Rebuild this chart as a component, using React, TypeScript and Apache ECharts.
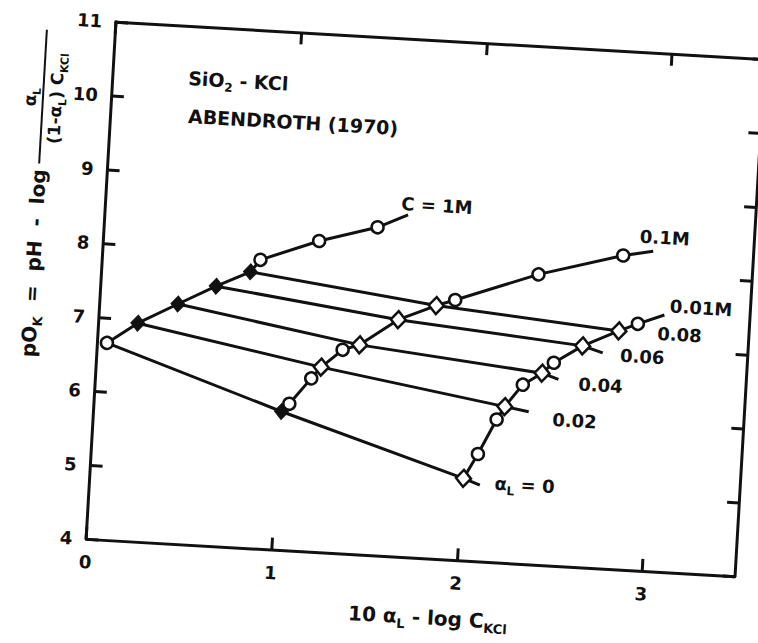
import React, { useEffect, useRef } from 'react';
import * as echarts from 'echarts';

// Axis ranges / ticks
const xMin = 0;
const xMax = 3.5;
const yMin = 4;
const yMax = 11;

// C = 1M curve (o: open circle, D: filled diamond, -: no marker)
const c1mX = [0.05, 0.21, 0.42, 0.62, 0.80, 0.85, 1.16, 1.47, 1.63];
const c1mY = [6.66, 6.95, 7.24, 7.51, 7.73, 7.90, 8.20, 8.43, 8.62];
const c1mMark = ['o', 'D', 'D', 'D', 'D', 'o', 'o', 'o', '-'];

// C = 0.1M curve (d: open diamond)
const c01X = [1.01, 1.05, 1.16, 1.21, 1.32, 1.41, 1.61, 1.81, 1.91, 2.35, 2.80, 2.96];
const c01Y = [5.87, 5.98, 6.34, 6.50, 6.75, 6.83, 7.20, 7.42, 7.51, 7.92, 8.24, 8.32];
const c01Mark = ['D', 'o', 'o', 'd', 'o', 'd', 'd', 'd', 'o', 'o', 'o', '-'];

// C = 0.01M curve
const c001X = [2.01, 2.08, 2.17, 2.21, 2.30, 2.40, 2.46, 2.61, 2.80, 2.90, 3.04];
const c001Y = [5.11, 5.45, 5.93, 6.11, 6.42, 6.59, 6.74, 6.99, 7.22, 7.33, 7.47];
const c001Mark = ['d', 'o', 'o', 'd', 'o', 'd', 'o', 'd', 'd', 'o', '-'];

// constant-alpha lines
const alpha0X = [0.05, 1.01, 2.01, 2.10];
const alpha0Y = [6.66, 5.87, 5.11, 5.03];
const alpha02X = [0.21, 1.21, 2.21, 2.34];
const alpha02Y = [6.95, 6.50, 6.11, 6.06];
const alpha04X = [0.42, 1.41, 2.40, 2.49];
const alpha04Y = [7.24, 6.83, 6.59, 6.52];
const alpha06X = [0.62, 1.61, 2.61, 2.72];
const alpha06Y = [7.51, 7.20, 6.99, 6.91];
const alpha08X = [0.80, 1.81, 2.80];
const alpha08Y = [7.73, 7.42, 7.22];

const FONT = 'DejaVu Sans';
const INK = '#111';

function curveData(xs: number[], ys: number[], marks: string[]) {
  return xs.map((x, i) => {
    const m = marks[i];
    const item: any = { value: [x, ys[i]] };
    if (m === 'o') {
      item.symbol = 'circle';
      item.symbolSize = 12;
      item.itemStyle = { color: '#fff', borderColor: INK, borderWidth: 2.5 };
    } else if (m === 'D') {
      item.symbol = 'diamond';
      item.symbolSize = [14, 16];
      item.itemStyle = { color: INK, borderColor: INK, borderWidth: 1 };
    } else if (m === 'd') {
      item.symbol = 'diamond';
      item.symbolSize = [15, 17];
      item.itemStyle = { color: '#fff', borderColor: INK, borderWidth: 2.5 };
    } else {
      item.symbol = 'none';
    }
    return item;
  });
}

function pairs(xs: number[], ys: number[]) {
  return xs.map((x, i) => [x, ys[i]]);
}

const rich = (size: number) => ({
  m: { fontSize: size, fontWeight: 'bold', fontFamily: FONT, color: INK },
  s: { fontSize: Math.round(size * 0.65), fontWeight: 'bold', fontFamily: FONT, color: INK, verticalAlign: 'bottom', lineHeight: size + 8 },
});

function label(x: number, y: number, text: string, size: number, align = 'left') {
  return {
    type: 'text',
    x,
    y,
    style: {
      text,
      rich: rich(size),
      font: `bold ${size}px ${FONT}`,
      fill: INK,
      align,
      verticalAlign: 'middle',
    },
  };
}

export default function App() {
  const ref = useRef<HTMLDivElement>(null);

  useEffect(() => {
    if (!ref.current) return;
    const chart = echarts.init(ref.current, null, { renderer: 'svg' });

    const axisLine = { show: true, onZero: false, lineStyle: { color: INK, width: 3 } };
    const axisTick = { show: true, inside: true, length: 12, lineStyle: { color: INK, width: 3 } };
    const tickLabel = { color: INK, fontSize: 18, fontWeight: 'bold', fontFamily: FONT };

    const alphaLine = (data: number[][]) => ({
      type: 'line',
      data,
      symbol: 'none',
      lineStyle: { color: INK, width: 3 },
      z: 2,
    });

    const curve = (data: any[]) => ({
      type: 'line',
      data,
      showAllSymbol: true,
      lineStyle: { color: INK, width: 3 },
      z: 3,
    });

    chart.setOption({
      animation: false,
      backgroundColor: '#fff',
      grid: { left: 100.7, top: 40, width: 649.6, height: 518 },
      xAxis: [
        {
          type: 'value', min: xMin, max: xMax, interval: 1, position: 'bottom',
          axisLine, axisTick,
          axisLabel: { ...tickLabel, margin: 14, showMaxLabel: false,
            formatter: (v: number) => (Number.isInteger(v) ? String(v) : '') },
          splitLine: { show: false },
        },
        {
          type: 'value', min: xMin, max: xMax, interval: 1, position: 'top',
          axisLine, axisTick, axisLabel: { show: false }, splitLine: { show: false },
        },
      ],
      yAxis: [
        {
          type: 'value', min: yMin, max: yMax, interval: 1, position: 'left',
          axisLine, axisTick,
          axisLabel: { ...tickLabel, margin: 14 },
          splitLine: { show: false },
        },
        {
          type: 'value', min: yMin, max: yMax, interval: 1, position: 'right',
          axisLine, axisTick, axisLabel: { show: false }, splitLine: { show: false },
        },
      ],
      series: [
        alphaLine(pairs(alpha0X, alpha0Y)),
        alphaLine(pairs(alpha02X, alpha02Y)),
        alphaLine(pairs(alpha04X, alpha04Y)),
        alphaLine(pairs(alpha06X, alpha06Y)),
        alphaLine(pairs(alpha08X, alpha08Y)),
        curve(curveData(c1mX, c1mY, c1mMark)),
        curve(curveData(c01X, c01Y, c01Mark)),
        curve(curveData(c001X, c001Y, c001Mark)),
      ],
      graphic: [
        label(176, 92, '{m|SiO}{s|2}{m| - KCl}', 19),
        label(178, 130, '{m|ABENDROTH (1970)}', 19),
        label(396, 205, '{m|C = 1M}', 18),
        label(636, 224, '{m|0.1M}', 18),
        label(670, 292, '{m|0.01M}', 18),
        label(659, 320, '{m|0.08}', 18),
        label(623, 344, '{m|0.06}', 18),
        label(583, 375, '{m|0.04}', 18),
        label(559, 412, '{m|0.02}', 18),
        label(505, 479, '{m|α}{s|L}{m| = 0}', 18),
        label(446, 617, '{m|10 α}{s|L}{m| - log C}{s|KCl}', 20, 'center'),
        {
          type: 'group',
          x: 32,
          y: 220,
          rotation: Math.PI / 2,
          children: [
            label(-160, 0, '{m|pO}{s|K}{m|  =  pH  -  log}', 20),
            label(100, -13, '{m|α}{s|L}', 17, 'center'),
            {
              type: 'line',
              shape: { x1: 34, y1: 0, x2: 168, y2: 0 },
              style: { stroke: INK, lineWidth: 2 },
            },
            label(100, 13, '{m|(1-α}{s|L}{m|) C}{s|KCl}', 17, 'center'),
          ],
        },
      ],
    });

    return () => chart.dispose();
  }, []);

  return (
    <div style={{ position: 'fixed', left: 0, top: 0, width: 758, height: 643, overflow: 'hidden', background: '#fff' }}>
      <div
        ref={ref}
        style={{
          width: 758,
          height: 643,
          transform: 'rotate(3.3deg)',
          transformOrigin: '425.5px 299px',
        }}
      />
    </div>
  );
}
